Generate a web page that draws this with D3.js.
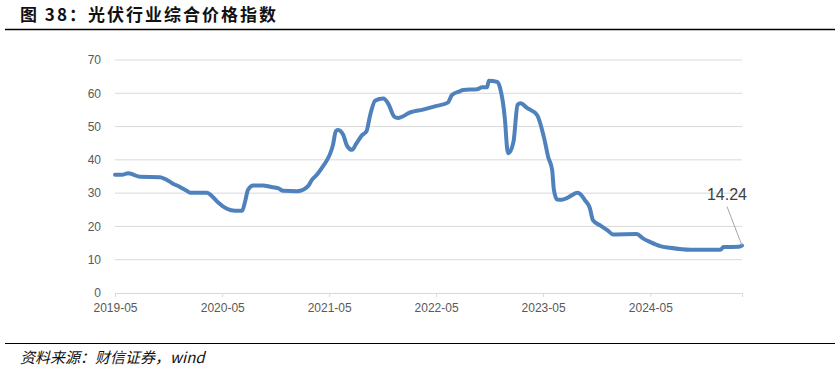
<!DOCTYPE html>
<html>
<head>
<meta charset="utf-8">
<script src="https://cdn.jsdelivr.net/npm/d3@7"></script>
<style>
  body { margin: 0; background: #fff; }
  svg { display: block; }
</style>
</head>
<body>
<svg id="svg" width="840" height="373"></svg>
<script>
// index values
let dates = [
    "2019-05-01", "2019-05-25", "2019-06-15", "2019-07-01", "2019-07-25", "2019-10-01",
    "2019-10-20", "2019-11-12", "2019-12-10", "2020-01-03", "2020-01-12", "2020-03-10",
    "2020-03-28", "2020-04-17", "2020-05-17", "2020-06-14", "2020-07-08", "2020-07-18",
    "2020-07-28", "2020-08-15", "2020-09-18", "2020-10-12", "2020-11-09", "2020-11-25",
    "2021-01-12", "2021-02-03", "2021-02-19", "2021-03-03", "2021-03-20", "2021-04-06",
    "2021-04-24", "2021-05-04", "2021-05-14", "2021-05-24", "2021-06-01", "2021-06-18",
    "2021-07-01", "2021-07-18", "2021-08-01", "2021-08-22", "2021-09-05", "2021-09-18",
    "2021-10-05", "2021-11-02", "2021-11-19", "2021-12-09", "2021-12-22", "2022-02-03",
    "2022-03-17", "2022-05-03", "2022-06-10", "2022-06-24", "2022-07-21", "2022-08-01",
    "2022-09-18", "2022-10-05", "2022-10-22", "2022-10-28", "2022-11-25", "2022-12-05",
    "2022-12-22", "2022-12-30", "2023-01-03", "2023-01-20", "2023-02-03", "2023-02-13",
    "2023-03-07", "2023-04-10", "2023-05-06", "2023-05-18", "2023-06-01", "2023-06-07",
    "2023-06-18", "2023-07-04", "2023-07-21", "2023-08-08", "2023-08-25", "2023-09-04",
    "2023-09-20", "2023-10-08", "2023-10-18", "2023-11-12", "2023-12-06", "2023-12-26",
    "2024-03-16", "2024-04-06", "2024-05-01", "2024-06-04", "2024-07-07", "2024-09-15",
    "2024-12-26", "2025-01-06", "2025-02-28", "2025-03-10"
];
let values = [
    35.5, 35.5, 36.0, 35.6, 34.9, 34.8,
    34.2, 33.0, 31.8, 30.6, 30.1, 30.1,
    29.0, 27.2, 25.3, 24.7, 24.7, 27.5,
    31.0, 32.3, 32.3, 31.9, 31.4, 30.7,
    30.6, 31.1, 32.2, 34.0, 35.5, 37.6,
    40.0, 41.8, 44.5, 48.7, 49.0, 47.5,
    44.2, 43.0, 44.8, 47.5, 48.5, 53.5,
    57.8, 58.4, 56.8, 53.0, 52.6, 54.3,
    55.1, 56.2, 57.2, 59.5, 60.6, 61.0,
    61.2, 61.8, 61.8, 63.8, 63.4, 61.7,
    52.0, 43.0, 42.0, 45.4, 56.5, 57.0,
    55.6, 53.5, 46.0, 41.0, 37.0, 31.0,
    28.1, 28.0, 28.5, 29.4, 30.1, 29.8,
    28.0, 25.4, 21.9, 20.3, 18.9, 17.6,
    17.7, 16.4, 15.3, 14.1, 13.6, 13.0,
    13.0, 13.8, 13.9, 14.24
];
let yTicks = [0, 10, 20, 30, 40, 50, 60, 70];
let xTickLabels = ["2019-05", "2020-05", "2021-05", "2022-05", "2023-05", "2024-05"];
let lastLabel = "14.24";
let titleText = "图 38：光伏行业综合价格指数";
let sourceText = "资料来源：财信证券，wind";

let svg = d3.select("#svg");
let parse = d3.timeParse("%Y-%m-%d");
let parseMonth = d3.timeParse("%Y-%m");
let data = dates.map((d, i) => ({ date: parse(d), value: values[i] }));

const margin = { left: 115, right: 98, top: 60, bottom: 80 };
const width = 840, height = 373;

let xScale = d3.scaleTime()
    .domain(d3.extent(data, d => d.date))
    .range([margin.left, width - margin.right]);

let yScale = d3.scaleLinear()
    .domain([0, 70])
    .range([height - margin.bottom, margin.top]);

// title + rules
svg.append("text")
    .attr("x", 20)
    .attr("y", 21)
    .style("font-family", "'Noto Sans CJK SC', sans-serif")
    .style("font-weight", "bold")
    .style("font-size", "17px")
    .style("fill", "#111")
    .style("letter-spacing", "2px")
    .text(titleText);

svg.append("line")
    .attr("x1", 5).attr("x2", 835)
    .attr("y1", 29.5).attr("y2", 29.5)
    .attr("stroke", "#000")
    .attr("stroke-width", 1.5);

svg.append("line")
    .attr("x1", 5).attr("x2", 835)
    .attr("y1", 343.5).attr("y2", 343.5)
    .attr("stroke", "#000")
    .attr("stroke-width", 1.2);

svg.append("text")
    .attr("x", 20)
    .attr("y", 363)
    .style("font-family", "'Noto Sans CJK SC', serif")
    .style("font-style", "italic")
    .style("font-size", "15px")
    .style("fill", "#111")
    .text(sourceText);

// gridlines
svg.append("g")
    .selectAll("line")
    .data(yTicks.filter(t => t > 0))
    .join("line")
    .attr("x1", margin.left)
    .attr("x2", width - margin.right)
    .attr("y1", d => yScale(d))
    .attr("y2", d => yScale(d))
    .attr("stroke", "#d9d9d9")
    .attr("stroke-width", 1);

// y axis
let yAxis = svg.append("g")
    .attr("transform", `translate(${margin.left},0)`)
    .call(d3.axisLeft(yScale).tickValues(yTicks).tickSize(0).tickPadding(14));
yAxis.select(".domain").remove();
yAxis.selectAll("text")
    .style("font-family", "'Liberation Sans', Arial, sans-serif")
    .style("font-size", "12px")
    .style("fill", "#595959");

// x axis
let xAxis = svg.append("g")
    .attr("transform", `translate(0,${yScale(0)})`)
    .call(d3.axisBottom(xScale)
        .tickValues(xTickLabels.map(parseMonth))
        .tickFormat(d3.timeFormat("%Y-%m"))
        .tickSize(4)
        .tickPadding(6));
xAxis.select(".domain").attr("stroke", "#d9d9d9");
xAxis.selectAll(".tick line").attr("stroke", "#d9d9d9");
xAxis.selectAll("text")
    .style("font-family", "'Liberation Sans', Arial, sans-serif")
    .style("font-size", "12px")
    .style("fill", "#595959");

// series line
let line = d3.line()
    .x(d => xScale(d.date))
    .y(d => yScale(d.value))
    .curve(d3.curveMonotoneX);

svg.append("path")
    .datum(data)
    .attr("d", line)
    .attr("fill", "none")
    .attr("stroke", "#4f81bd")
    .attr("stroke-width", 4)
    .attr("stroke-linejoin", "round")
    .attr("stroke-linecap", "round");

// end label with leader line
let last = data[data.length - 1];
let lx = xScale(last.date), ly = yScale(last.value);
svg.append("line")
    .attr("x1", lx - 15).attr("y1", ly - 39)
    .attr("x2", lx).attr("y2", ly)
    .attr("stroke", "#a6a6a6")
    .attr("stroke-width", 1);

svg.append("text")
    .attr("x", lx - 15)
    .attr("y", ly - 46)
    .attr("text-anchor", "middle")
    .style("font-family", "'Liberation Sans', Arial, sans-serif")
    .style("font-size", "16px")
    .style("fill", "#404040")
    .text(lastLabel);
</script>
</body>
</html>
